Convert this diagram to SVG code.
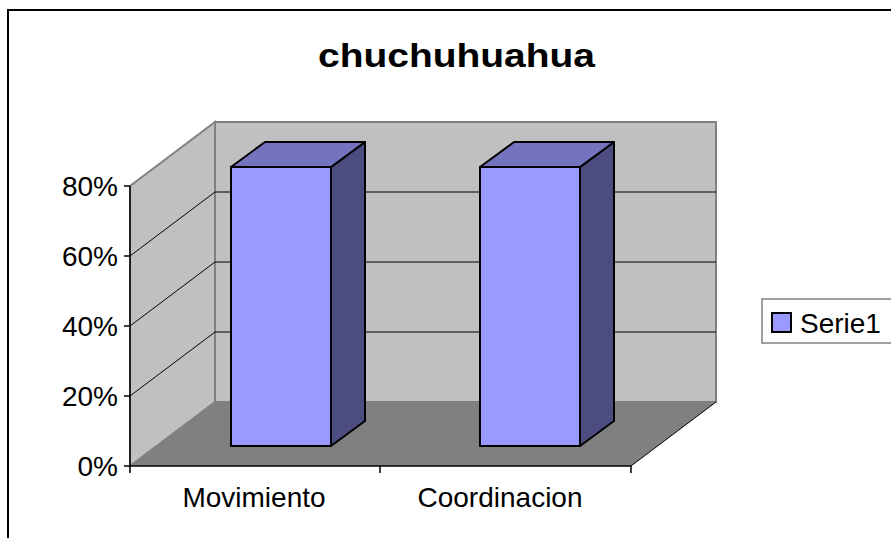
<svg xmlns="http://www.w3.org/2000/svg" width="891" height="538" viewBox="0 0 891 538">
<style>
.wall{fill:#C0C0C0;stroke:#808080;stroke-width:2}
.grid{stroke:#000;stroke-width:1;fill:none}
.axis{stroke:#000;stroke-width:1.5;fill:none}
.front{fill:#9999FF;stroke:#000;stroke-width:2;stroke-linejoin:round}
.top{fill:#7373BF;stroke:#000;stroke-width:2;stroke-linejoin:round}
.side{fill:#4C4C80;stroke:#000;stroke-width:2;stroke-linejoin:round}
.lbl{font-family:"Liberation Sans",Arial,sans-serif;font-size:28px;fill:#000}
.ttl{font-family:"Liberation Sans",Arial,sans-serif;font-size:34px;font-weight:bold;fill:#000}
</style>
<rect x="8" y="10" width="900" height="540" fill="#fff" stroke="#000" stroke-width="2"/>
<g id="title"><text class="ttl" x="456.5" y="67" text-anchor="middle" textLength="277" lengthAdjust="spacingAndGlyphs">chuchuhuahua</text></g>
<g id="plot">
<rect class="wall" x="215" y="122" width="501" height="280"/>
<polygon class="wall" points="130,186 215,122 215,402 130,466"/>
<polygon fill="#808080" points="130,466 215,402 716,402 631,466"/>
<line x1="631" y1="466" x2="716" y2="402" stroke="#000" stroke-width="1"/>
<g class="grid">
<path d="M215,192H716M215,262H716M215,332H716"/>
<path d="M130,256L215,192M130,326L215,262M130,396L215,332"/>
</g>
<g class="axis">
<path d="M130,186V466H631"/>
<path d="M124,186H130M124,256H130M124,326H130M124,396H130M124,466H130"/>
<path d="M130,466V473M380,466V473M631,466V473"/>
</g>
</g>
<g id="ylabels" class="lbl" text-anchor="end">
<text x="118" y="196">80%</text>
<text x="118" y="266">60%</text>
<text x="118" y="336">40%</text>
<text x="118" y="406">20%</text>
<text x="118" y="476">0%</text>
</g>
<g id="bar-movimiento">
<polygon class="side" points="331,167 365,142 365,421 331,446"/>
<polygon class="top" points="231,167 265,142 365,142 331,167"/>
<rect class="front" x="231" y="167" width="100" height="279"/>
</g>
<g id="bar-coordinacion">
<polygon class="side" points="580,167 614,142 614,421 580,446"/>
<polygon class="top" points="480,167 514,142 614,142 580,167"/>
<rect class="front" x="480" y="167" width="100" height="279"/>
</g>
<g id="xlabels" class="lbl" text-anchor="middle">
<text x="254" y="507">Movimiento</text>
<text x="500" y="507">Coordinacion</text>
</g>
<g id="legend">
<rect x="762" y="299" width="140" height="44" fill="#fff" stroke="#808080" stroke-width="1.5"/>
<rect x="772" y="313" width="19" height="19" fill="#9999FF" stroke="#000" stroke-width="2"/>
<text class="lbl" x="800" y="333">Serie1</text>
</g>
</svg>
